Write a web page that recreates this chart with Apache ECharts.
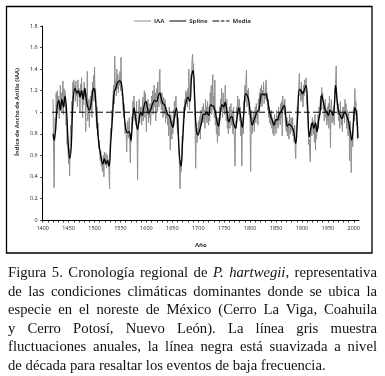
<!DOCTYPE html>
<html>
<head>
<meta charset="utf-8">
<script src="https://cdn.jsdelivr.net/npm/echarts@6/dist/echarts.min.js"></script>
<style>
  html, body { margin: 0; padding: 0; background: #fff; }
  #chart { position: absolute; left: 0; top: 0; width: 385px; height: 376px; }
  #caption {
    position: absolute; left: 8px; top: 263px; width: 369px;
    font-family: "Liberation Serif", "DejaVu Serif", serif;
    font-size: 14.7px; line-height: 18.6px; color: #111;
  }
  #caption div { text-align: justify; text-align-last: justify; white-space: nowrap; }
  #caption div.last { text-align-last: left; }
</style>
</head>
<body>
<div id="chart"></div>
<div id="caption">
  <div>Figura 5. Cronología regional de <i>P. hartwegii</i>, representativa</div>
  <div>de las condiciones climáticas dominantes donde se ubica la</div>
  <div>especie en el noreste de México (Cerro La Viga, Coahuila</div>
  <div>y Cerro Potosí, Nuevo León). La línea gris muestra</div>
  <div>fluctuaciones anuales, la línea negra está suavizada a nivel</div>
  <div class="last">de década para resaltar los eventos de baja frecuencia.</div>
</div>
<script>
// serie anual IAA, desde 1420
const iaaStart = 1420
const iaaValues = [
  1.12, 0.64, 0.30, 0.72, 0.95, 0.82, 1.18, 0.98, 1.20, 1.05, // 1420
  1.15, 1.02, 0.94, 1.10, 1.25, 1.06, 1.18, 1.00, 1.14, 1.29, // 1430
  0.98, 1.22, 1.05, 1.20, 1.12, 0.88, 0.95, 0.70, 0.78, 0.62, // 1440
  0.52, 0.66, 0.41, 0.72, 0.88, 0.82, 1.10, 0.97, 1.28, 1.12, // 1450
  1.30, 1.18, 1.25, 1.10, 1.29, 1.15, 1.21, 1.05, 1.30, 1.16, // 1460
  1.22, 1.08, 1.00, 1.26, 1.18, 1.32, 1.10, 0.95, 1.20, 1.07, // 1470
  1.28, 1.15, 1.22, 0.82, 1.18, 1.05, 1.38, 0.92, 1.00, 1.12, // 1480
  0.86, 1.08, 1.15, 1.02, 1.20, 0.95, 1.28, 1.18, 1.34, 1.10, // 1490
  1.42, 1.12, 1.22, 0.98, 0.85, 1.05, 0.78, 0.90, 0.66, 0.74, // 1500
  0.62, 0.55, 0.64, 0.50, 0.58, 0.45, 0.52, 0.60, 0.40, 0.63, // 1510
  0.58, 0.52, 0.62, 0.48, 0.55, 0.60, 0.50, 0.56, 0.42, 0.29, // 1520
  0.72, 0.85, 0.78, 1.02, 0.95, 1.10, 1.18, 1.25, 1.08, 1.52, // 1530
  1.20, 1.30, 1.15, 1.40, 1.22, 1.35, 1.18, 1.30, 1.25, 1.38, // 1540
  1.20, 1.51, 1.28, 1.15, 1.18, 1.02, 0.95, 1.08, 0.88, 0.80, // 1550
  0.90, 0.78, 0.63, 0.85, 0.92, 0.76, 0.88, 0.95, 0.70, 0.53, // 1560
  0.80, 0.72, 0.96, 0.88, 1.10, 0.98, 1.15, 1.05, 0.92, 1.00, // 1570
  0.88, 1.10, 0.80, 0.37, 0.85, 0.98, 1.12, 0.90, 1.05, 0.96, // 1580
  1.05, 0.88, 1.00, 1.14, 0.92, 1.08, 1.20, 0.95, 1.18, 1.05, // 1590
  0.82, 1.10, 0.98, 1.12, 0.90, 1.04, 0.95, 1.08, 0.88, 1.00, // 1600
  1.15, 1.02, 1.20, 0.98, 1.12, 1.25, 1.05, 1.18, 0.92, 1.10, // 1610
  1.22, 1.00, 1.28, 1.12, 1.05, 1.34, 1.40, 1.08, 1.15, 1.02, // 1620
  1.18, 1.05, 0.95, 1.14, 1.10, 0.98, 1.12, 0.90, 1.05, 0.95, // 1630
  1.02, 0.88, 0.96, 0.78, 1.05, 0.92, 0.65, 0.98, 0.85, 0.75, // 1640
  0.92, 0.80, 1.02, 0.88, 1.10, 0.95, 1.08, 1.15, 0.98, 0.90, // 1650
  0.80, 0.95, 0.70, 0.62, 0.48, 0.29, 0.55, 0.45, 0.62, 0.78, // 1660
  0.72, 0.90, 1.05, 0.95, 1.12, 1.02, 1.20, 1.08, 1.18, 1.05, // 1670
  1.22, 1.10, 1.40, 1.02, 1.18, 1.25, 1.35, 1.30, 1.48, 1.54, // 1680
  1.40, 1.45, 1.20, 1.02, 0.85, 0.48, 0.78, 0.90, 0.72, 0.85, // 1690
  0.78, 0.92, 0.85, 0.96, 0.75, 1.02, 0.88, 0.98, 1.05, 0.90, // 1700
  1.08, 0.92, 1.02, 0.85, 1.12, 0.95, 1.05, 0.90, 1.10, 0.98, // 1710
  0.88, 1.05, 0.92, 1.18, 1.08, 1.25, 0.98, 1.12, 1.35, 1.02, // 1720
  1.15, 0.95, 1.30, 0.88, 1.02, 0.80, 0.95, 0.72, 0.85, 0.95, // 1730
  0.78, 1.05, 0.92, 1.12, 1.00, 1.22, 1.05, 0.95, 1.18, 1.02, // 1740
  1.10, 0.98, 1.25, 1.05, 0.92, 1.12, 0.85, 0.98, 0.80, 0.92, // 1750
  1.05, 0.85, 0.98, 1.08, 0.88, 1.02, 0.90, 0.80, 1.05, 0.82, // 1760
  0.70, 0.50, 0.92, 0.85, 1.05, 0.95, 1.15, 1.08, 0.98, 1.12, // 1770
  0.92, 1.05, 0.78, 0.90, 0.50, 0.85, 0.95, 0.80, 1.10, 1.02, // 1780
  1.25, 1.10, 1.30, 1.39, 1.05, 1.20, 1.12, 1.22, 0.98, 1.08, // 1790
  0.90, 0.45, 0.85, 1.02, 0.80, 0.95, 0.88, 1.00, 0.82, 0.98, // 1800
  1.05, 0.90, 1.08, 0.95, 1.02, 0.88, 1.12, 1.00, 1.18, 1.08, // 1810
  1.22, 1.10, 1.25, 1.05, 1.20, 1.15, 1.28, 1.08, 1.18, 1.12, // 1820
  1.24, 1.30, 1.10, 1.18, 1.02, 1.12, 0.95, 1.05, 0.90, 1.00, // 1830
  0.88, 1.02, 0.85, 0.95, 0.80, 0.92, 0.78, 0.98, 0.85, 0.90, // 1840
  0.80, 1.02, 0.88, 0.96, 0.85, 1.05, 0.92, 1.00, 0.88, 1.08, // 1850
  0.95, 1.10, 0.78, 1.15, 1.02, 1.08, 0.98, 1.12, 0.90, 0.85, // 1860
  0.82, 0.95, 0.78, 0.92, 0.85, 0.75, 0.98, 0.88, 0.80, 0.95, // 1870
  0.90, 0.82, 0.95, 0.78, 0.85, 0.72, 0.88, 0.65, 0.57, 0.80, // 1880
  0.92, 1.05, 0.98, 1.18, 1.25, 1.36, 1.15, 1.22, 1.10, 1.28, // 1890
  1.12, 1.20, 1.05, 1.25, 1.15, 1.30, 1.18, 1.24, 1.32, 1.10, // 1900
  1.02, 0.95, 0.88, 0.70, 0.75, 0.62, 0.54, 0.82, 0.90, 0.78, // 1910
  0.95, 0.85, 0.80, 0.92, 0.72, 0.98, 0.65, 0.88, 0.75, 0.82, // 1920
  0.90, 0.98, 0.85, 1.05, 0.95, 1.08, 1.15, 1.02, 1.23, 1.12, // 1930
  1.18, 1.02, 1.08, 0.92, 1.05, 1.12, 0.95, 1.00, 0.88, 1.05, // 1940
  0.92, 1.08, 0.85, 1.15, 0.98, 0.67, 1.05, 1.12, 0.90, 1.02, // 1950
  0.92, 1.05, 0.88, 1.20, 1.25, 1.30, 1.43, 1.15, 1.05, 0.98, // 1960
  1.08, 0.92, 1.02, 0.85, 1.10, 0.95, 0.88, 1.00, 0.82, 1.05, // 1970
  0.95, 1.05, 0.90, 1.12, 0.98, 1.08, 0.85, 1.02, 0.92, 0.78, // 1980
  1.00, 0.85, 0.55, 0.92, 0.75, 0.44, 0.70, 0.82, 0.68, 0.95, // 1990
  1.05, 0.92, 1.22, 0.98, 1.10, 0.88, 1.02, 0.75, 0.78        // 2000
]

// curva suavizada (spline)
const splineYears = [
  1420, 1422, 1425, 1428, 1431, 1434, 1437, 1440, 1443, 1446, 1449, 1452, 1455, 1458,
  1462, 1466, 1469, 1472, 1475, 1478, 1481, 1484, 1487, 1490, 1494, 1498, 1501, 1504,
  1508, 1512, 1516, 1519, 1522, 1525, 1528, 1531, 1535, 1538, 1541, 1544, 1548, 1552,
  1556, 1560, 1564, 1567, 1570, 1573, 1576, 1579, 1583, 1586, 1589, 1592, 1595, 1599,
  1602, 1605, 1608, 1612, 1616, 1620, 1623, 1626, 1629, 1632, 1635, 1638, 1641, 1645,
  1648, 1651, 1654, 1658, 1661, 1664, 1667, 1670, 1674, 1677, 1680, 1684, 1687, 1690,
  1693, 1696, 1699, 1703, 1707, 1710, 1713, 1716, 1720, 1724, 1727, 1730, 1733, 1736,
  1739, 1742, 1746, 1749, 1752, 1755, 1759, 1762, 1765, 1768, 1772, 1775, 1778, 1781,
  1785, 1788, 1791, 1794, 1797, 1800, 1804, 1807, 1810, 1813, 1817, 1821, 1824, 1827,
  1830, 1833, 1837, 1840, 1843, 1846, 1850, 1853, 1856, 1859, 1863, 1866, 1869, 1872,
  1875, 1878, 1881, 1884, 1888, 1891, 1895, 1898, 1901, 1904, 1908, 1911, 1914, 1917,
  1920, 1923, 1926, 1929, 1932, 1935, 1938, 1941, 1945, 1948, 1951, 1954, 1957, 1960,
  1963, 1965, 1968, 1971, 1974, 1977, 1980, 1983, 1986, 1990, 1993, 1996, 1999, 2002,
  2005, 2008
]
const splineValues = [
  0.80, 0.74, 0.85, 1.05, 1.11, 1.02, 1.12, 1.05, 1.15, 1.02, 0.72, 0.57, 0.68, 1.05,
  1.22, 1.18, 1.20, 1.14, 1.20, 1.12, 1.22, 1.12, 1.05, 1.02, 1.10, 1.22, 1.18, 0.95,
  0.72, 0.60, 0.52, 0.57, 0.52, 0.55, 0.50, 0.70, 0.98, 1.19, 1.22, 1.27, 1.29, 1.26,
  1.05, 0.85, 0.81, 0.82, 0.74, 0.90, 1.04, 0.95, 0.84, 0.93, 1.00, 0.97, 1.05, 1.10,
  1.04, 0.99, 1.02, 1.08, 1.11, 1.10, 1.15, 1.18, 1.12, 1.08, 1.07, 1.02, 0.98, 0.96,
  0.90, 0.86, 0.95, 1.04, 0.85, 0.58, 0.50, 0.75, 1.04, 1.10, 1.14, 1.10, 1.32, 1.39,
  1.15, 0.85, 0.79, 0.84, 0.92, 0.98, 0.98, 1.00, 0.97, 1.07, 1.06, 1.05, 1.00, 0.92,
  0.87, 0.97, 1.07, 1.05, 1.09, 1.02, 0.91, 0.95, 0.96, 0.90, 0.85, 0.95, 1.04, 0.98,
  0.86, 1.00, 1.17, 1.16, 1.12, 1.00, 0.88, 0.92, 0.96, 1.00, 1.02, 1.16, 1.17, 1.16,
  1.17, 1.13, 1.02, 0.96, 0.92, 0.88, 0.93, 0.93, 0.98, 1.00, 1.04, 1.06, 0.95, 0.87,
  0.89, 0.88, 0.86, 0.82, 0.71, 0.90, 1.21, 1.20, 1.17, 1.20, 1.25, 1.05, 0.77, 0.85,
  0.90, 0.85, 0.90, 0.82, 0.92, 1.00, 1.16, 1.10, 1.02, 1.00, 0.97, 1.02, 1.00, 0.97,
  1.10, 1.25, 1.10, 1.00, 0.97, 0.94, 0.98, 1.00, 0.97, 0.91, 0.82, 0.74, 0.88, 1.04,
  1.00, 0.76
]

// media
const mediaYears = [1418, 2008]
const mediaValue = 1

const iaaData = iaaValues.map((v, i) => [iaaStart + i, v])
const splineData = splineYears.map((y, i) => [y, splineValues[i]])
const mediaData = mediaYears.map(y => [y, mediaValue])

const chart = echarts.init(document.getElementById('chart'))

const tickFont = { fontFamily: 'Open Sans', fontSize: 5.5, color: '#222' }

// iconos de leyenda: linea continua y linea discontinua
const solidIcon = 'path://M0,0h20v1h-20z'
const dashIcon = 'path://M0,0h8v1h-8zM10,0h4v1h-4zM16,0h4v1h-4z'

const option = {
  animation: false,
  legend: {
    top: 13,
    left: 'center',
    itemWidth: 17,
    itemHeight: 1,
    itemGap: 5,
    symbolKeepAspect: false,
    textStyle: { fontFamily: 'Open Sans', fontSize: 6, fontWeight: 'bold', color: '#333', padding: [0, 0, 0, -2] },
    data: [
      { name: 'IAA', icon: solidIcon },
      { name: 'Spline', icon: solidIcon },
      { name: 'Media', icon: dashIcon }
    ]
  },
  grid: { left: 42.7, right: 26, top: 26, bottom: 156 },
  xAxis: {
    type: 'value',
    min: 1400,
    max: 2010,
    interval: 10,
    name: 'Año',
    nameLocation: 'middle',
    nameGap: 22,
    nameTextStyle: { fontFamily: 'Open Sans', fontSize: 6, fontWeight: 'bold', color: '#333' },
    axisLine: { lineStyle: { color: '#000', width: 1 } },
    axisTick: { length: 2.5, lineStyle: { color: '#000', width: 0.8 } },
    axisLabel: {
      ...tickFont,
      margin: 5,
      showMaxLabel: false,
      formatter: v => (v % 50 === 0 ? String(v) : '')
    },
    splitLine: { show: false }
  },
  yAxis: {
    type: 'value',
    min: 0,
    max: 1.8,
    interval: 0.2,
    axisLine: { show: true, lineStyle: { color: '#000', width: 1 } },
    axisTick: { show: true, length: 2.5, lineStyle: { color: '#000', width: 0.8 } },
    axisLabel: { ...tickFont, margin: 5 },
    splitLine: { show: false }
  },
  graphic: [
    {
      type: 'rect',
      shape: { x: 6.5, y: 6.5, width: 365.5, height: 246.5 },
      style: { fill: 'none', stroke: '#000', lineWidth: 1.3 },
      silent: true
    },
    {
      type: 'text',
      x: 17,
      y: 112,
      rotation: Math.PI / 2,
      style: {
        text: 'Índice de Ancho de Anillo (IAA)',
        fontFamily: 'Open Sans',
        fontSize: 5.8,
        fontWeight: 'bold',
        fill: '#333',
        align: 'center',
        verticalAlign: 'middle'
      }
    }
  ],
  series: [
    {
      name: 'IAA',
      type: 'line',
      data: iaaData,
      symbol: 'none',
      lineStyle: { color: '#8e8e8e', width: 1 },
      itemStyle: { color: '#8e8e8e' },
      z: 1
    },
    {
      name: 'Spline',
      type: 'line',
      data: splineData,
      symbol: 'none',
      smooth: 0.4,
      lineStyle: { color: '#000', width: 1.3 },
      itemStyle: { color: '#000' },
      z: 2
    },
    {
      name: 'Media',
      type: 'line',
      data: mediaData,
      symbol: 'none',
      lineStyle: { color: '#000', width: 1, type: [6, 3] },
      itemStyle: { color: '#000' },
      z: 3
    }
  ]
}

chart.setOption(option)
</script>
</body>
</html>
